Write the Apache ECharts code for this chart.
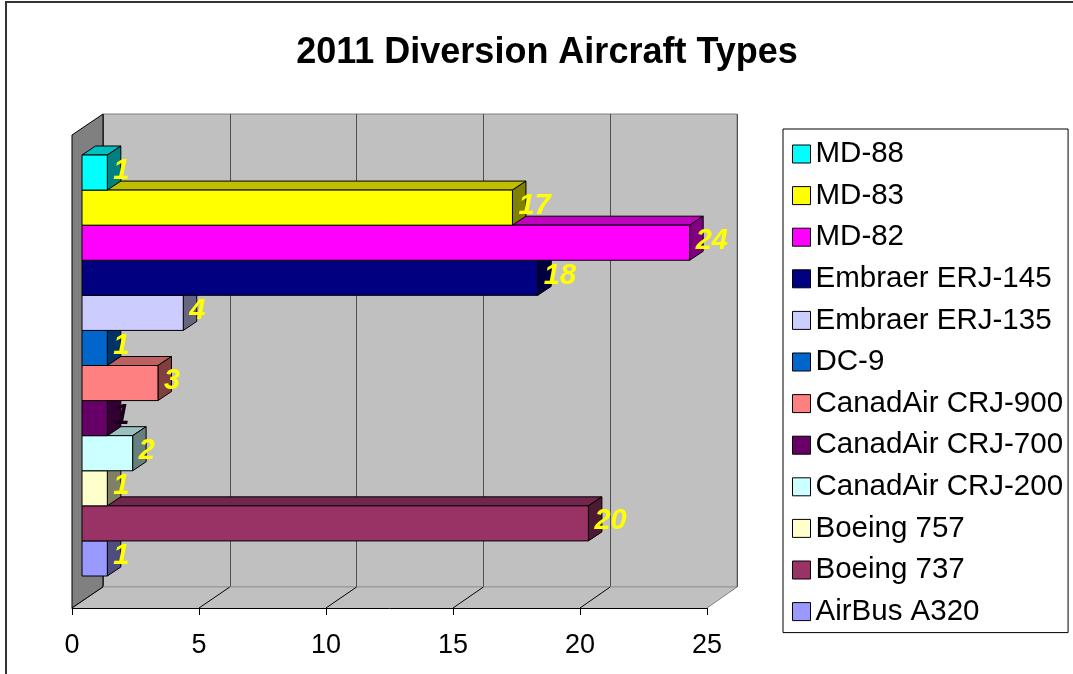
<!DOCTYPE html>
<html><head><meta charset="utf-8">
<script src="https://cdn.jsdelivr.net/npm/echarts@6/dist/echarts.min.js"></script>
<style>html,body{margin:0;padding:0;background:#fff}#c{width:1073px;height:674px}</style>
</head><body><div id="c"></div>
<script>
// ---- data ----
const categories = ['MD-88','MD-83','MD-82','Embraer ERJ-145','Embraer ERJ-135','DC-9','CanadAir CRJ-900','CanadAir CRJ-700','CanadAir CRJ-200','Boeing 757','Boeing 737','AirBus A320'];
const values = [1,17,24,18,4,1,3,1,2,1,20,1];
const colors = ['#00ffff','#ffff00','#ff00ff','#000080','#ccccff','#0066cc','#ff8080','#660066','#ccffff','#ffffcc','#993366','#9999ff'];
const labelColors = ['#ffff00','#ffff00','#ffff00','#ffff00','#ffff00','#ffff00','#ffff00','#1a001a','#ffff00','#ffff00','#ffff00','#ffff00'];
const axisTicks = [0,5,10,15,20,25];
const titleText = '2011 Diversion Aircraft Types';

const FONT = '"Liberation Sans", Arial, sans-serif';
const DX = 13.5, DY = -9;
function shade(hex, f){
  const n = parseInt(hex.slice(1),16);
  const r = Math.round(((n>>16)&255)*f), g = Math.round(((n>>8)&255)*f), b = Math.round((n&255)*f);
  return 'rgb('+r+','+g+','+b+')';
}
function makeRender(color, labelColor){
  return function(params, api){
    const v = api.value(0), c = api.value(1);
    const p0 = api.coord([0, c]), p1 = api.coord([v, c]);
    const h = api.size([0, 1])[1];
    const yt = p0[1] - h/2, yb = p0[1] + h/2, x0 = p0[0], x1 = p1[0];
    return {type:'group', children:[
      {type:'polygon', shape:{points:[[x0,yt],[x0+DX,yt+DY],[x1+DX,yt+DY],[x1,yt]]}, style:{fill:shade(color,0.75), stroke:'#000', lineWidth:1}},
      {type:'polygon', shape:{points:[[x1,yt],[x1+DX,yt+DY],[x1+DX,yb+DY],[x1,yb]]}, style:{fill:shade(color,0.5), stroke:'#000', lineWidth:1}},
      {type:'rect', shape:{x:x0, y:yt, width:x1-x0, height:h}, style:{fill:color, stroke:'#000', lineWidth:1}},
      {type:'text', x:x1+6, y:p0[1]-2, style:{text:String(v), fill:labelColor, fontSize:29, fontWeight:'bold', fontStyle:'italic', fontFamily:FONT, align:'left', verticalAlign:'middle'}}
    ]};
  };
}

const n = categories.length;
const series = categories.map((name, i) => ({
  name: name,
  type: 'custom',
  xAxisIndex: 2, yAxisIndex: 2,
  z: 3 + (n - i),
  itemStyle: {color: colors[i]},
  encode: {x: 0, y: 1},
  renderItem: makeRender(colors[i], labelColors[i]),
  data: [[values[i], name]]
}));

const chart = echarts.init(document.getElementById('c'), null, {renderer:'canvas'});
chart.setOption({
  animation: false,
  backgroundColor: '#ffffff',
  title: {text: titleText, left: 542, top: 30, textAlign: 'center',
    textStyle: {fontSize: 36, fontWeight: 'bold', fontFamily: FONT, color: '#000'}},
  legend: {
    orient: 'vertical', left: 783, top: 129,
    padding: [10, 5, 6, 9],
    borderColor: '#000', borderWidth: 1,
    itemWidth: 18, itemHeight: 18, itemGap: 11.6, itemTextGap: 14,
    icon: 'rect',
    itemStyle: {borderColor: '#000', borderWidth: 1},
    textStyle: {fontSize: 29.5, lineHeight: 29, fontFamily: FONT, color: '#000'},
    data: categories
  },
  grid: [
    {left: 103, top: 114, width: 634, height: 473, show: true, backgroundColor: '#c0c0c0', borderColor: '#808080', borderWidth: 1},
    {left: 72, top: 600, width: 635, height: 8},
    {left: 82, top: 155, width: 633, height: 421}
  ],
  xAxis: [
    {gridIndex: 0, type: 'value', min: 0, max: 25, interval: 5, axisLine:{show:false}, axisTick:{show:false}, axisLabel:{show:false},
      splitLine:{show:true, lineStyle:{color:'#505050', width:1}}},
    {gridIndex: 1, type: 'value', min: 0, max: 25, interval: 5, position: 'bottom',
      axisLine:{show:true, lineStyle:{color:'#000', width:1}}, axisTick:{show:true, length:7, lineStyle:{color:'#000'}},
      axisLabel:{show:true, fontSize:27, fontFamily:FONT, color:'#000', margin:24, customValues: axisTicks}, splitLine:{show:false}},
    {gridIndex: 2, type: 'value', min: 0, max: 25, show: false}
  ],
  yAxis: [
    {gridIndex: 0, type: 'value', show: false},
    {gridIndex: 1, type: 'value', show: false},
    {gridIndex: 2, type: 'category', data: categories, inverse: true, show: false}
  ],
  series: series
});

// decorative 3D walls / floor built from axis pixel positions
const fx0 = chart.convertToPixel({xAxisIndex:1}, 0), fx1 = chart.convertToPixel({xAxisIndex:1}, 25);
const bx0 = chart.convertToPixel({xAxisIndex:0}, 0), bx1 = chart.convertToPixel({xAxisIndex:0}, 25);
const fy = 608, by = 587, topB = 114, topF = 135;
const diag = axisTicks.map(t => {
  const a = chart.convertToPixel({xAxisIndex:1}, t), b = chart.convertToPixel({xAxisIndex:0}, t);
  return {type:'line', z:1, shape:{x1:a, y1:fy, x2:b, y2:by}, style:{stroke:(t===25?'#808080':'#000'), lineWidth:1}};
});
chart.setOption({graphic: [
  {type:'rect', z:0, shape:{x:6, y:2, width:1100, height:700}, style:{fill:'none', stroke:'#333', lineWidth:2}, silent:true},
  {type:'polygon', z:1, shape:{points:[[fx0,topF],[bx0,topB],[bx0,by],[fx0,fy]]}, style:{fill:'#808080', stroke:'#000', lineWidth:1}},
  {type:'polygon', z:1, shape:{points:[[fx0,fy],[bx0,by],[bx1,by],[fx1,fy]]}, style:{fill:'#c0c0c0', stroke:'none'}},
  {type:'line', z:1, shape:{x1:bx0, y1:by, x2:bx1, y2:by}, style:{stroke:'#9a9a9a', lineWidth:1}}
].concat(diag)});
</script>
</body></html>
